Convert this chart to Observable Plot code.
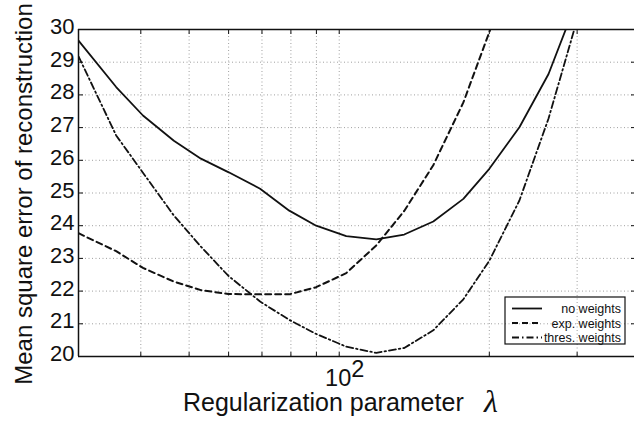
<!DOCTYPE html>
<html>
<head>
<meta charset="utf-8">
<script src="https://cdn.jsdelivr.net/npm/d3@7"></script>
<script src="https://cdn.jsdelivr.net/npm/@observablehq/plot@0.6"></script>
<style>
  html, body { margin: 0; padding: 0; background: #fff; }
  #chart { width: 634px; height: 421px; overflow: hidden; }
</style>
</head>
<body>
<div id="chart"></div>
<script>
// ---- data ----
const lambda = [30, 35.7, 40.4, 46.6, 52.8, 59.9, 69.4, 79.4, 89.9, 103.3, 118.7, 135, 154.4, 177.4, 200, 229.8, 262.9, 300];
const noWeights = [29.66, 28.24, 27.37, 26.6, 26.05, 25.64, 25.13, 24.46, 24.0, 23.68, 23.58, 23.73, 24.13, 24.82, 25.74, 27.01, 28.64, 30.9];
const expWeights = [23.77, 23.22, 22.71, 22.29, 22.03, 21.91, 21.9, 21.9, 22.12, 22.55, 23.4, 24.45, 25.85, 27.77, 29.92, 32.6];
const thresWeights = [29.18, 26.76, 25.62, 24.31, 23.36, 22.47, 21.68, 21.12, 20.69, 20.3, 20.11, 20.26, 20.8, 21.75, 22.93, 24.77, 27.28, 30.3];

const seriesNames = ["no weights", "exp. weights", "thres. weights"];
const yTicks = [20, 21, 22, 23, 24, 25, 26, 27, 28, 29, 30];
const yGrid = [21, 22, 23, 24, 25, 26, 27, 28, 29];
const xGrid = [40, 50, 60, 70, 80, 90, 100, 200, 300];
const xMajor = [100];
const xTitle = "Regularization parameter";
const xSymbol = "λ";
const yTitle = "Mean square error of reconstruction";

const font = "'Liberation Sans', Arial, Helvetica, sans-serif";
const ink = "#111";

const toRows = (vals) => vals.map((v, i) => ({x: lambda[i], y: v}));
const rowsNo = toRows(noWeights);
const rowsExp = toRows(expWeights);
const rowsThres = toRows(thresWeights);

const gridStyle = {stroke: "#888", strokeWidth: 0.8, strokeDasharray: "1,2.5", strokeOpacity: 1};

const chart = Plot.plot({
  width: 634,
  height: 421,
  marginLeft: 78,
  marginRight: 0,
  marginTop: 29,
  marginBottom: 65,
  x: {type: "log", domain: [30, 391], axis: null},
  y: {domain: [20, 30], axis: null},
  style: {fontFamily: font, background: "#fff", color: ink, fontSize: "22px"},
  marks: [
    Plot.ruleX(xGrid, {...gridStyle}),
    Plot.ruleY(yGrid, {...gridStyle}),
    // frame
    Plot.ruleY([20, 30], {stroke: ink, strokeWidth: 1.5}),
    Plot.ruleX([30], {stroke: ink, strokeWidth: 1.5}),
    // inward ticks
    Plot.axisY({ticks: yTicks, anchor: "left", tickSize: -5, tickFormat: () => "", label: null, stroke: ink}),
    Plot.axisY({ticks: yTicks, anchor: "right", tickSize: -4, tickFormat: () => "", label: null, stroke: ink}),
    Plot.axisX({ticks: xGrid, anchor: "bottom", tickSize: -4, tickFormat: () => "", label: null, stroke: ink}),
    Plot.axisX({ticks: xGrid, anchor: "top", tickSize: -4, tickFormat: () => "", label: null, stroke: ink}),
    // y tick labels
    Plot.axisY({ticks: yTicks, anchor: "left", tickSize: 0, tickPadding: 4, label: null, fontSize: 22, dy: -2.5, fill: ink}),
    // x tick label 10^2
    Plot.text(xMajor, {x: d => d, frameAnchor: "bottom", text: () => "10", textAnchor: "end", lineAnchor: "bottom", dx: 12, dy: 29, fontSize: 23.5, fill: ink}),
    Plot.text(xMajor, {x: d => d, frameAnchor: "bottom", text: () => "2", textAnchor: "start", lineAnchor: "bottom", dx: 12, dy: 20, fontSize: 23.5, fill: ink}),
    // data lines
    Plot.line(rowsNo, {x: "x", y: "y", stroke: ink, strokeWidth: 1.8, clip: true}),
    Plot.line(rowsExp, {x: "x", y: "y", stroke: ink, strokeWidth: 2, strokeDasharray: "6,4", clip: true}),
    Plot.line(rowsThres, {x: "x", y: "y", stroke: ink, strokeWidth: 1.8, strokeDasharray: "7,3,1.5,3", clip: true})
  ]
});

document.getElementById("chart").appendChild(chart);

const svg = d3.select(chart);
// axis titles
svg.append("text")
  .attr("transform", "translate(32,194) rotate(-90)")
  .attr("text-anchor", "middle")
  .attr("fill", ink)
  .style("font-family", font)
  .style("font-size", "24px")
  .text(yTitle);
svg.append("text")
  .attr("x", 183).attr("y", 411)
  .attr("text-anchor", "start")
  .attr("fill", ink)
  .style("font-family", font)
  .style("font-size", "25px")
  .text(xTitle);
svg.append("text")
  .attr("x", 491).attr("y", 412)
  .attr("text-anchor", "middle")
  .attr("fill", ink)
  .style("font-family", "'Liberation Serif', 'DejaVu Serif', serif")
  .style("font-style", "italic")
  .style("font-size", "32px")
  .text(xSymbol);

// legend
const lg = svg.append("g");
lg.append("rect").attr("x", 505).attr("y", 297).attr("width", 120).attr("height", 47)
  .attr("fill", "none").attr("stroke", ink).attr("stroke-width", 1.2);
const dashes = [null, "6,4", "7,3,1.5,3"];
const widths = [1.8, 2, 1.8];
const rowY = [308.5, 323, 337.5];
seriesNames.forEach((name, i) => {
  lg.append("line").attr("x1", 512).attr("x2", 542).attr("y1", rowY[i]).attr("y2", rowY[i])
    .attr("stroke", ink).attr("stroke-width", widths[i])
    .attr("stroke-dasharray", dashes[i]);
  lg.append("text").attr("x", 621).attr("y", rowY[i] + 4.5)
    .attr("text-anchor", "end").attr("fill", ink)
    .style("font-family", font).style("font-size", "12.5px")
    .text(name);
});
</script>
</body>
</html>
